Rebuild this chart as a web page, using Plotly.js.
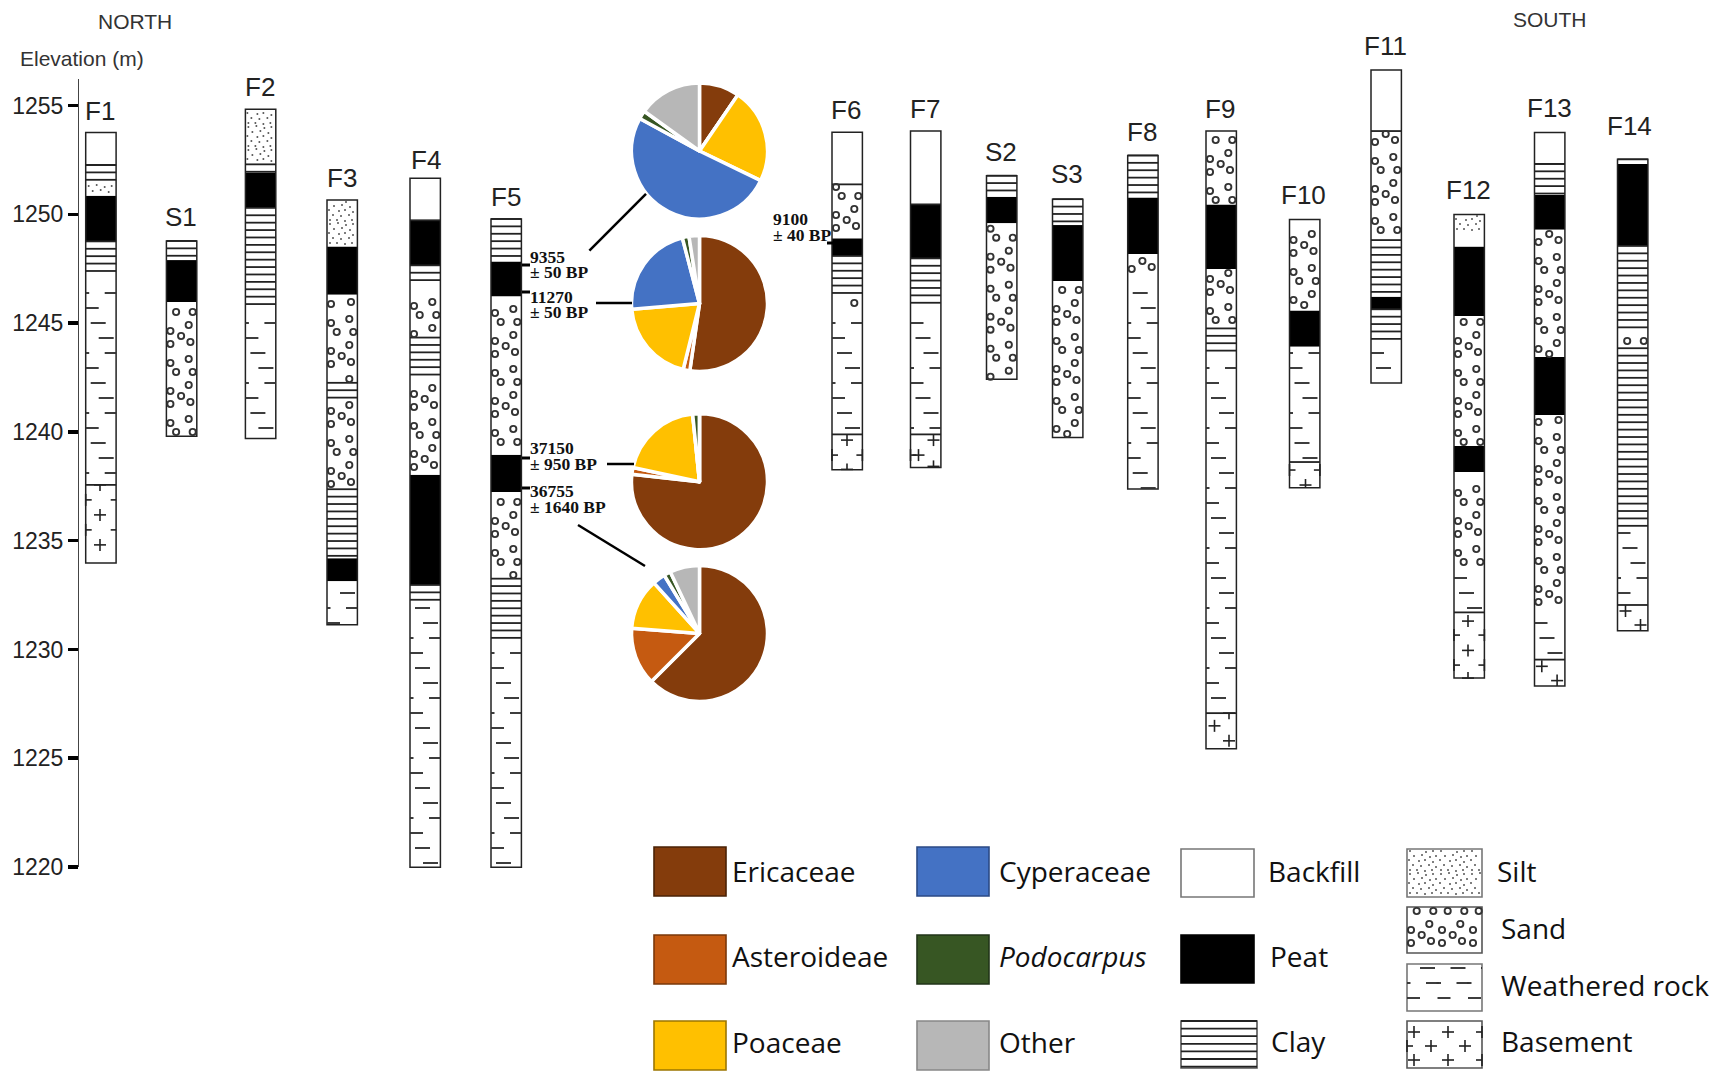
<!DOCTYPE html>
<html><head><meta charset="utf-8">
<script src="https://cdn.plot.ly/plotly-3.0.1.min.js"></script>
<style>html,body{margin:0;padding:0;background:#fff}</style></head>
<body><div id="chart" style="width:1721px;height:1075px"></div>
<script>
// ---- data: boreholes (boundaries in m elevation, lithology per interval) ----
const columnNames=['F1','S1','F2','F3','F4','F5','F6','F7','S2','S3','F8','F9','F10','F11','F12','F13','F14'];
const F1_bounds=[1253.76,1252.27,1251.48,1250.86,1248.76,1247.13,1237.57,1233.98];
const F1_lith=['Backfill','Clay','Silt','Peat','Clay','Weathered rock','Basement'];
const S1_bounds=[1248.78,1247.9,1245.98,1239.8];
const S1_lith=['Clay','Peat','Sand'];
const F2_bounds=[1254.83,1252.3,1251.93,1250.3,1245.66,1239.7];
const F2_lith=['Silt','Clay','Peat','Clay','Weathered rock'];
const F3_bounds=[1250.66,1248.53,1246.31,1242.26,1241.5,1237.37,1234.2,1233.14,1231.14];
const F3_lith=['Silt','Peat','Sand','Clay','Sand','Clay','Peat','Weathered rock'];
const F4_bounds=[1251.66,1249.73,1247.66,1246.67,1244.34,1242.54,1238.03,1232.97,1232.15,1220];
const F4_lith=['Backfill','Peat','Clay','Sand','Clay','Sand','Peat','Clay','Weathered rock'];
const F5_bounds=[1249.79,1247.84,1246.23,1238.96,1237.24,1233.26,1230.49,1220];
const F5_lith=['Clay','Peat','Sand','Peat','Sand','Clay','Weathered rock'];
const F6_bounds=[1253.77,1251.38,1248.9,1248.09,1246.33,1245.76,1239.89,1238.27];
const F6_lith=['Backfill','Sand','Peat','Clay','Sand','Weathered rock','Basement'];
const F7_bounds=[1253.83,1250.46,1247.98,1245.65,1239.89,1238.37];
const F7_lith=['Backfill','Peat','Clay','Weathered rock','Basement'];
const S2_bounds=[1251.78,1250.81,1249.59,1242.42];
const S2_lith=['Clay','Peat','Sand'];
const S3_bounds=[1250.7,1249.51,1246.94,1239.75];
const S3_lith=['Clay','Peat','Sand'];
const F8_bounds=[1252.71,1250.78,1248.18,1246.9,1237.38];
const F8_lith=['Clay','Peat','Sand','Weathered rock'];
const F9_bounds=[1253.83,1250.46,1247.49,1244.76,1243.69,1227.08,1225.44];
const F9_lith=['Sand','Peat','Sand','Clay','Weathered rock','Basement'];
const F10_bounds=[1249.77,1245.58,1243.92,1238.62,1237.44];
const F10_lith=['Sand','Peat','Weathered rock','Basement'];
const F11_bounds=[1256.64,1253.83,1248.82,1246.22,1245.64,1244.27,1242.25];
const F11_lith=['Backfill','Sand','Clay','Peat','Clay','Weathered rock'];
const F12_bounds=[1250.0,1249.2,1248.52,1245.33,1239.36,1238.16,1233.73,1231.71,1228.69];
const F12_lith=['Silt','Sand','Peat','Sand','Peat','Sand','Weathered rock','Basement'];
const F13_bounds=[1253.76,1252.32,1250.89,1249.3,1243.45,1240.78,1231.67,1229.54,1228.33];
const F13_lith=['Backfill','Clay','Peat','Sand','Peat','Sand','Weathered rock','Basement'];
const F14_bounds=[1252.53,1252.32,1248.55,1244.53,1243.85,1235.54,1232.05,1230.87];
const F14_lith=['Clay','Peat','Clay','Sand','Clay','Weathered rock','Basement'];
const tickValues=[1220,1225,1230,1235,1240,1245,1250,1255];
// pollen pies
const pollenTaxa=['Ericaceae','Asteroideae','Poaceae','Cyperaceae','Podocarpus','Other'];
const pollen9355=[9.5,0,22.5,50.5,2,15];
const pollen11270=[52.8,1.6,20,22.5,1.6,2.5];
const pollen37150=[76.5,1.6,20,0,1.6,0];
const pollen36755=[62,13.6,12,3,1.6,7];
const datesF5=[['9355','± 50 BP'],['11270','± 50 BP'],['37150','± 950 BP'],['36755','± 1640 BP']];
const datesF6=['9100','± 40 BP'];
const lithLegend=['Backfill','Peat','Clay','Silt','Sand','Weathered rock','Basement'];

// ---- styling / layout ----
const taxonColors=['#843C0C','#C55A11','#FFC000','#4472C4','#375623','#B7B7B7'];
const columnLeft=[85.7,166.4,245.4,327,410,491,832,910.5,986.5,1052.5,1127.7,1206,1289.5,1371,1454,1534.5,1617.5];
const labelGap=[22,24,22,22,18,22,22,22,24,25,23,22,24,24,24,25,33];
const labelShift=[0,0,0,1,2,1,0,0,0,0,0,0,0,0,0,1,-2];
const sandY0=[237,252,237,272,255,262,316,237,237.7,290,237,260,281,290,262,270,341];
const columnW=30.4;
const weatherPhase=[2,0,0,1,3,2,0,1,0,0,0,1,2,3,0,1,3];
const W=1721,H=1075,PXM=21.76;
const e2y=e=>105.6+(1255-e)*PXM, y2e=y=>1255-(y-105.6)/PXM;
const columnData={F1:[F1_bounds,F1_lith],S1:[S1_bounds,S1_lith],F2:[F2_bounds,F2_lith],F3:[F3_bounds,F3_lith],F4:[F4_bounds,F4_lith],F5:[F5_bounds,F5_lith],F6:[F6_bounds,F6_lith],F7:[F7_bounds,F7_lith],S2:[S2_bounds,S2_lith],S3:[S3_bounds,S3_lith],F8:[F8_bounds,F8_lith],F9:[F9_bounds,F9_lith],F10:[F10_bounds,F10_lith],F11:[F11_bounds,F11_lith],F12:[F12_bounds,F12_lith],F13:[F13_bounds,F13_lith],F14:[F14_bounds,F14_lith]};
// repeating texture tiles (px inside a tile)
const sandTile=[[9.7,0],[26.3,0],[22.3,13],[4,19],[14.7,24],[4,32],[24,30],[22.3,47],[4,51]];
const siltTile=[[3,2],[11,1],[19,3],[26,2],[7,7],[15,6],[23,8],[29,7],[2,11],[12,12],[18,11],[26,13],[6,16],[14,17],[22,16],[29,18],[3,21],[10,21],[18,22],[25,21]];
const weatherRows=[[[-1,3.5],[19,32]],[[0,13]],[[5,20]],[[13,28]]];
const basementPlus={F1:[[14.3,30],[14.3,60],[31,15],[31,45],[0,15],[0,45],[14.3,0]],
 F6:[[15,5.7],[0,20.7],[30.4,20.7],[15,35]],F7:[[23,5.7],[8,20.7],[23,32],[0,20.7]],F9:[[8.5,12.7],[23,27.7],[23,0]],
 F10:[[0,8],[30.4,8],[16,23]],F12:[[14,8.7],[0,22.7],[30.4,22.7],[14,38],[0,52.7],[30.4,52.7],[14,65.7]],F13:[[7.3,6.7],[22.6,21]],F14:[[8,6],[23,20]]};

const gLines={x:[],y:[]},gWeather={x:[],y:[]},gPlus={x:[],y:[]},gSand={x:[],y:[]},gSilt={x:[],y:[]};
function seg(g,x0,x1,y0,y1){g.x.push(x0,x1,null);g.y.push(y2e(y0),y2e(y1),null);}
function clay(l,r,t,b,step){for(let y=t;y<=b+0.5;y+=step)seg(gLines,l,r,y,y);}
function weathered(l,r,t,b,phase){
  for(let k=-60;k<60;k++){const y=323+15*k; if(y<t+2||y>b-1)continue;
    const row=weatherRows[((phase+k)%4+4)%4];
    for(let rep=0;l+rep*30.5<r;rep++)for(const d of row){
      const a=Math.max(l,l+rep*30.5+d[0]),c=Math.min(r,l+rep*30.5+d[1]);
      if(c>a)seg(gWeather,a,c,y,y);}
  }
}
function tile(g,l,r,t,b,tl,perY,phase,perX,mg){
  for(let rep=0;l+rep*perX<r;rep++)for(let k=-30;k<30;k++)for(const d of tl){
    const x=l+rep*perX+d[0],y=phase+k*perY+d[1];
    if(x>=l+mg&&x<=r-mg&&y>=t+mg&&y<=b-mg){g.x.push(x);g.y.push(y2e(y));}
  }
}
function plus(l,r,t,b,p,L){
  const cx=l+p[0],cy=t+p[1];
  const a=Math.max(l,cx-L),c=Math.min(r,cx+L),u=Math.max(t,cy-L),v=Math.min(b,cy+L);
  if(cy>=t&&cy<=b&&c>a)seg(gPlus,a,c,cy,cy);
  if(cx>=l&&cx<=r&&v>u)seg(gPlus,cx,cx,u,v);
}

const barsBy={};['Backfill','Peat','Clay','Silt','Sand','Weathered rock','Basement'].forEach(k=>barsBy[k]={x:[],base:[],y:[]});
const outline={x:[],base:[],y:[]};
const annotations=[];
columnNames.forEach((nm,i)=>{
  const [bd,li]=columnData[nm],l=columnLeft[i],r=l+columnW,cx=l+columnW/2;
  outline.x.push(cx);outline.base.push(bd[bd.length-1]);outline.y.push(bd[0]-bd[bd.length-1]);
  li.forEach((t,j)=>{
    const hi=bd[j],lo=bd[j+1],yt=e2y(hi),yb=e2y(lo),B=barsBy[t];
    B.x.push(cx);B.base.push(lo);B.y.push(hi-lo);
    if(t==='Clay')clay(l,r,yt,yb,7.4);
    if(t==='Sand')tile(gSand,l,r,yt,yb,sandTile,60,sandY0[i],31,2.5);
    if(t==='Silt')tile(gSilt,l,r,yt,yb,siltTile,23,i*5,31,1.5);
    if(t==='Weathered rock')weathered(l,r,yt,yb,weatherPhase[i]);
    if(t==='Basement'){seg(gLines,l,r,yt,yt);(basementPlus[nm]||[]).forEach(p=>plus(l,r,yt,yb,p,6));}
    if(t==='Backfill')seg(gLines,l,r,yb,yb);
  });
  annotations.push({x:cx-1+labelShift[i],y:y2e(e2y(bd[0])-labelGap[i]),xref:'x',yref:'y',text:nm,showarrow:false,xanchor:'center',yanchor:'middle',
    font:{family:'Liberation Sans',size:26,color:'#222'}});
});

const shapes=[];
function pline(x0,y0,x1,y1,w){shapes.push({type:'line',xref:'paper',yref:'paper',x0:x0/W,y0:1-y0/H,x1:x1/W,y1:1-y1/H,line:{color:'#000',width:w||2.5}});}
function ptext(x,y,t,f,anchor){annotations.push({x:x/W,y:1-y/H,xref:'paper',yref:'paper',text:t,showarrow:false,xanchor:anchor||'left',yanchor:'middle',font:f});}
// date tie marks and leaders
[[522,530,265],[522,530,292],[522,530,458],[522,530,488],[827,835,243]].forEach(a=>pline(a[0],a[2],a[1],a[2],3));
pline(589.4,250.7,646,193.8);pline(596,303,632,303);pline(607,464,634,464);pline(578,525,645,566);
const serif={family:'Liberation Serif',size:17.5,color:'#111'};
const dateY=[[257,272.5],[297,312],[448,463.5],[491,507]];
datesF5.forEach((d,i)=>{ptext(527.5,dateY[i][0],'<b>'+d[0]+'</b>',serif);ptext(527.5,dateY[i][1],'<b>'+d[1]+'</b>',serif);});
ptext(770.5,219,'<b>'+datesF6[0]+'</b>',serif);ptext(770.5,235,'<b>'+datesF6[1]+'</b>',serif);
const sans={family:'Liberation Sans',size:21,color:'#333'};
ptext(135,21,'NORTH',sans,'center');ptext(1549.5,20,'SOUTH',sans,'center');ptext(82,59,'Elevation (m)',sans,'center');
// legend
const legF={family:'Open Sans',size:28,color:'#111'};
function swatch(x0,y0,x1,y1,fill,line){shapes.push({type:'rect',layer:'below',xref:'paper',yref:'paper',x0:x0/W,x1:x1/W,y0:1-y0/H,y1:1-y1/H,fillcolor:fill,line:{color:line,width:1.6}});}
const solid=[['Ericaceae',654,847,726,896,730,871],['Asteroideae',654,935,726,984,730,956],['Poaceae',654,1021,726,1070,730,1042],
 ['Cyperaceae',917,847,989,896,997,871],['Podocarpus',917,935,989,984,997,956],['Other',917,1021,989,1070,997,1042]];
const dark=['#4a2206','#7a380a','#9c7600','#2b4a85','#22351a','#888'];
solid.forEach((s,i)=>{swatch(s[1],s[2],s[3],s[4],taxonColors[i],dark[i]);
  ptext(s[5],s[6],i===4?'<i>'+s[0]+'</i>':s[0],legF);});
swatch(1181,849,1254,897,'#fff','#777');ptext(1266,871,lithLegend[0],legF);
swatch(1181,935,1254,983,'#000','#000');ptext(1268,956,lithLegend[1],legF);
swatch(1181,1021,1257,1068,'#fff','#555');clay(1181,1257,1021,1068,7.6);ptext(1269,1041,lithLegend[2],legF);
swatch(1407,849,1482,897,'#fff','#777');tile(gSilt,1407,1482,849,897,siltTile,23,849,31,1.5);ptext(1495,871,lithLegend[3],legF);
swatch(1407,907,1482,953,'#fff','#555');tile(gSand,1407,1482,907,953,sandTile,60,911,31,3);ptext(1499,928,lithLegend[4],legF);
swatch(1407,964,1482,1011,'#fff','#777');weathered(1407,1482,964,1011,0);ptext(1499,985,lithLegend[5],legF);
swatch(1407,1021,1482,1068,'#fff','#555');
[[7,11],[41,11],[24,25],[58,25],[7,39],[41,39],[75,11],[75,39],[0,25]].forEach(p=>plus(1407,1482,1021,1068,p,6));
ptext(1499,1041,lithLegend[6],legF);

const lithFill={Backfill:'#fff',Peat:'#000',Clay:'#fff',Silt:'#fff',Sand:'#fff','Weathered rock':'#fff',Basement:'#fff'};
const traces=[];
Object.keys(barsBy).forEach(k=>{const b=barsBy[k];
  traces.push({type:'bar',name:k,x:b.x,base:b.base,y:b.y,width:columnW,marker:{color:lithFill[k],line:{width:0}},hoverinfo:'skip',showlegend:false,cliponaxis:false});});
traces.push({type:'scatter',mode:'lines',x:gLines.x,y:gLines.y,line:{color:'#222',width:1.8},connectgaps:false,hoverinfo:'skip',showlegend:false});
traces.push({type:'scatter',mode:'lines',x:gWeather.x,y:gWeather.y,line:{color:'#333',width:1.9},connectgaps:false,hoverinfo:'skip',showlegend:false});
traces.push({type:'scatter',mode:'lines',x:gPlus.x,y:gPlus.y,line:{color:'#222',width:1.6},connectgaps:false,hoverinfo:'skip',showlegend:false});
traces.push({type:'scatter',mode:'markers',x:gSand.x,y:gSand.y,marker:{symbol:'circle-open',size:6.2,color:'#333',line:{width:1.9,color:'#333'}},hoverinfo:'skip',showlegend:false});
traces.push({type:'scatter',mode:'markers',x:gSilt.x,y:gSilt.y,marker:{symbol:'circle',size:2,color:'#555'},hoverinfo:'skip',showlegend:false});
traces.push({type:'bar',name:'outline',x:outline.x,base:outline.base,y:outline.y,width:columnW,marker:{color:'rgba(0,0,0,0)',line:{color:'#222',width:1.5}},hoverinfo:'skip',showlegend:false,cliponaxis:false});
// invisible trace that carries the elevation axis
traces.push({type:'scatter',mode:'markers',x:[78],y:[1240],xaxis:'x',yaxis:'y2',marker:{size:1,opacity:0},hoverinfo:'skip',showlegend:false});
const pieCx=699.5,pieR=68,pieCy=[151,303.5,481.7,633.4];
[pollen9355,pollen11270,pollen37150,pollen36755].forEach((v,i)=>{
  traces.push({type:'pie',labels:pollenTaxa,values:v,sort:false,direction:'clockwise',rotation:0,textinfo:'none',hoverinfo:'label+percent',showlegend:false,
    marker:{colors:taxonColors,line:{color:'#fff',width:3.5}},
    domain:{x:[(pieCx-pieR)/W,(pieCx+pieR)/W],y:[1-(pieCy[i]+pieR)/H,1-(pieCy[i]-pieR)/H]}});
});
const layout={width:W,height:H,margin:{l:0,r:0,t:0,b:0},paper_bgcolor:'#fff',plot_bgcolor:'rgba(0,0,0,0)',barmode:'overlay',showlegend:false,
  xaxis:{range:[0,W],visible:false,domain:[0,1],fixedrange:true},
  yaxis:{range:[y2e(H),y2e(0)],visible:false,domain:[0,1],fixedrange:true},
  yaxis2:{anchor:'free',position:78/W,side:'left',domain:[1-867/H,1-78.6/H],range:[1220,y2e(78.6)],
    tickmode:'array',tickvals:tickValues,ticktext:tickValues.map(String),ticks:'outside',ticklen:10,tickwidth:3.6,tickcolor:'#000',
    showline:true,linecolor:'#444',linewidth:1,showgrid:false,zeroline:false,tickfont:{family:'Liberation Sans',size:23,color:'#222'},fixedrange:true},
  annotations,shapes};
Plotly.newPlot('chart',traces,layout,{displayModeBar:false,staticPlot:true});
</script></body></html>
